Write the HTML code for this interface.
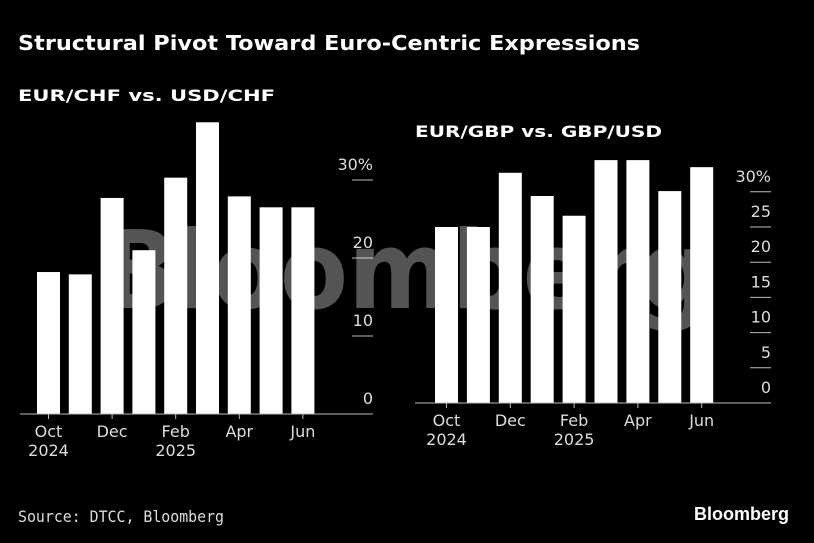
<!DOCTYPE html>
<html><head><meta charset="utf-8"><style>
body{margin:0;background:#000;width:814px;height:543px;overflow:hidden;font-family:"Liberation Sans",sans-serif;}
svg{display:block}
</style></head><body>
<svg width="814" height="543">
<text x="18" y="50" fill="#fff" font-size="20" font-weight="bold" font-family="DejaVu Sans, sans-serif" textLength="622" lengthAdjust="spacingAndGlyphs">Structural Pivot Toward Euro-Centric Expressions</text>
<text x="18" y="101" fill="#fff" font-size="16" font-weight="bold" font-family="DejaVu Sans, sans-serif" textLength="257" lengthAdjust="spacingAndGlyphs">EUR/CHF vs. USD/CHF</text>
<text x="415" y="137" fill="#fff" font-size="16" font-weight="bold" font-family="DejaVu Sans, sans-serif" textLength="247" lengthAdjust="spacingAndGlyphs">EUR/GBP vs. GBP/USD</text>
<g id="left"></g>
<g id="right"></g>
<text x="102" y="308" fill="rgba(255,255,255,0.33)" font-size="108" font-weight="bold" font-family="DejaVu Sans, sans-serif" textLength="608" lengthAdjust="spacingAndGlyphs">Bloomberg</text>
<text x="18" y="522" fill="#ddd" font-size="16" font-family="DejaVu Sans Mono, monospace" textLength="206" lengthAdjust="spacingAndGlyphs">Source: DTCC, Bloomberg</text>
<text x="789" y="520" text-anchor="end" fill="#fff" font-size="18" font-weight="bold">Bloomberg</text>
</svg>
<script>
const leftValues=[18.2,17.9,27.7,21.0,30.3,37.4,27.9,26.5,26.5];
const leftTicks=[0,10,20,30];
const rightValues=[25.0,25.0,32.7,29.4,26.6,34.5,34.5,30.1,33.5];
const rightTicks=[0,5,10,15,20,25,30];
const monthLabels=["Oct","","Dec","","Feb","","Apr","","Jun"];
const yearLabels=["2024","","","","2025","","","",""];
const NS="http://www.w3.org/2000/svg";
function mk(parent,tag,attrs,text){const e=document.createElementNS(NS,tag);for(const k in attrs)e.setAttribute(k,attrs[k]);if(text!==undefined)e.textContent=text;parent.appendChild(e);return e;}
function draw(g,values,ticks,cfg){
  const y=v=>cfg.y0-v*cfg.ppu;
  const x=i=>cfg.x0+i*cfg.step;
  values.forEach((v,i)=>{
    const r=mk(g,'rect',{x:x(i),y:y(v),width:cfg.bw,height:cfg.y0-y(v),fill:'#fff'});
    
    
  });
  const base=mk(g,'line',{x1:cfg.bx1,x2:cfg.tx2,y1:cfg.y0,y2:cfg.y0,stroke:'#bbb','stroke-width':1});
  
  
  ticks.forEach((t,j)=>{
    if(t!==0){const l=mk(g,'line',{x1:cfg.tx1,x2:cfg.tx2,y1:y(t),y2:y(t),stroke:'#bbb','stroke-width':1});
      
      }
    const lab=mk(g,'text',{x:cfg.tx2,y:y(t)-10,'text-anchor':'end',fill:'#ddd','font-size':16,'font-family':'DejaVu Sans, sans-serif'},t+(j===ticks.length-1?'%':''));
    
    
  });
  monthLabels.forEach((m,i)=>{
    if(!m)return;
    const cx=x(i)+cfg.bw/2;
    mk(g,'line',{x1:cx,x2:cx,y1:cfg.y0,y2:cfg.y0+5,stroke:'#bbb'});
    const t=mk(g,'text',{x:cx,y:cfg.y0+23,'text-anchor':'middle',fill:'#ddd','font-size':16,'font-family':'DejaVu Sans, sans-serif'},m);
    
    
    if(yearLabels[i]){const t2=mk(g,'text',{x:cx,y:cfg.y0+42,'text-anchor':'middle',fill:'#ddd','font-size':16,'font-family':'DejaVu Sans, sans-serif'},yearLabels[i]);
      
      }
  });
}
draw(document.getElementById('left'),leftValues,leftTicks,{id:'left',x0:37,step:31.8,bw:23,y0:414,ppu:7.8,bx1:20,tx1:352,tx2:373});
draw(document.getElementById('right'),rightValues,rightTicks,{id:'right',x0:435,step:31.9,bw:23,y0:403,ppu:7.04,bx1:415,tx1:750,tx2:771});
</script>
</body></html>
